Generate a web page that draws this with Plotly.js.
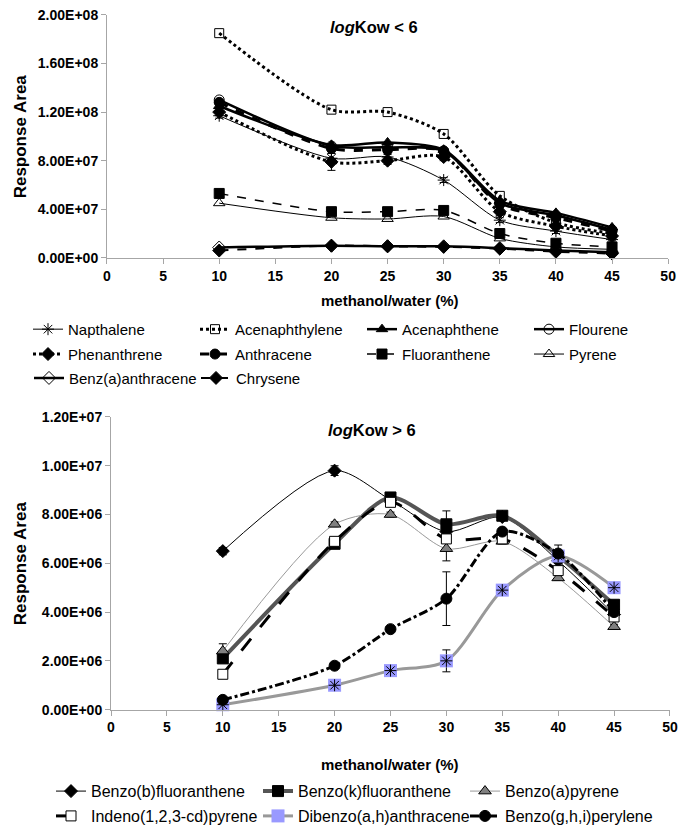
<!DOCTYPE html>
<html>
<head>
<meta charset="utf-8">
<script src="https://cdn.plot.ly/plotly-3.0.1.min.js"></script>
<style>html,body{margin:0;padding:0;background:#fff}#chart{width:696px;height:833px}</style>
</head>
<body>
<div id="chart"></div>
<script>
// ---------- data ----------
const xTop = [10, 20, 25, 30, 35, 40, 45];
const napthalene      = [1.17e8, 8.2e7, 8.3e7, 6.4e7, 3.1e7, 2.2e7, 1.5e7];
const acenaphthylene  = [1.85e8, 1.22e8, 1.20e8, 1.02e8, 5.1e7, 2.9e7, 2.0e7];
const acenaphthene    = [1.25e8, 9.3e7, 9.5e7, 8.9e7, 4.7e7, 3.7e7, 2.5e7];
const flourene        = [1.30e8, 9.2e7, 9.1e7, 8.8e7, 4.5e7, 3.5e7, 2.3e7];
const phenanthrene    = [1.20e8, 7.9e7, 8.0e7, 8.3e7, 3.8e7, 2.6e7, 1.8e7];
const anthracene      = [1.28e8, 9.0e7, 8.9e7, 8.8e7, 4.4e7, 3.3e7, 2.2e7];
const fluoranthene    = [5.3e7, 3.8e7, 3.8e7, 3.9e7, 2.0e7, 1.2e7, 0.9e7];
const pyrene          = [4.5e7, 3.3e7, 3.2e7, 3.4e7, 1.6e7, 0.9e7, 0.7e7];
const benzAanthracene = [0.85e7, 1.0e7, 0.95e7, 0.95e7, 0.8e7, 0.6e7, 0.45e7];
const chrysene        = [0.6e7, 1.0e7, 0.95e7, 0.9e7, 0.75e7, 0.5e7, 0.35e7];
const phenanthreneErr = [0.3e7, 0.7e7, 0.3e7, 0.3e7, 0.3e7, 0.2e7, 0.2e7];
const napthaleneErr   = [0.2e7, 0.4e7, 0.2e7, 0.2e7, 0.2e7, 0.2e7, 0.1e7];

const xBot = [10, 20, 25, 30, 35, 40, 45];
const benzoBF  = [6.5e6, 9.8e6, 8.6e6, 7.3e6, 7.9e6, 6.1e6, 3.9e6];
const benzoKF  = [2.1e6, 6.8e6, 8.7e6, 7.6e6, 7.95e6, 6.3e6, 4.3e6];
const benzoAP  = [2.4e6, 7.6e6, 8.0e6, 6.6e6, 6.9e6, 5.4e6, 3.4e6];
const indeno   = [1.45e6, 6.9e6, 8.5e6, 7.0e6, 7.0e6, 5.7e6, 3.8e6];
const dibenzo  = [0.2e6, 1.0e6, 1.6e6, 2.0e6, 4.9e6, 6.3e6, 5.0e6];
const benzoGHI = [0.4e6, 1.8e6, 3.3e6, 4.55e6, 7.3e6, 6.4e6, 4.0e6];
const benzoBFErr  = [0.15e6, 0.2e6, 0.1e6, 0.1e6, 0.1e6, 0.1e6, 0.1e6];
const benzoKFErr  = [0.1e6, 0.1e6, 0.1e6, 0.55e6, 0.15e6, 0.45e6, 0.1e6];
const benzoAPErr  = [0.3e6, 0.1e6, 0.1e6, 0.5e6, 0.1e6, 0.1e6, 0.1e6];
const dibenzoErr  = [0.05e6, 0.1e6, 0.1e6, 0.45e6, 0.1e6, 0.1e6, 0.1e6];
const benzoGHIErr = [0.05e6, 0.1e6, 0.1e6, 1.1e6, 0.1e6, 0.1e6, 0.1e6];

const xTickVals = [0, 5, 10, 15, 20, 25, 30, 35, 40, 45, 50];
const topYTickVals = [0, 4e7, 8e7, 1.2e8, 1.6e8, 2e8];
const topYTickText = ['0.00E+00', '4.00E+07', '8.00E+07', '1.20E+08', '1.60E+08', '2.00E+08'];
const botYTickVals = [0, 2e6, 4e6, 6e6, 8e6, 1e7, 1.2e7];
const botYTickText = ['0.00E+00', '2.00E+06', '4.00E+06', '6.00E+06', '8.00E+06', '1.00E+07', '1.20E+07'];

// ---------- traces ----------
const FONT = 'Arial, "Liberation Sans", sans-serif';
function tr(name, x, y, opt) {
  const t = {
    type: 'scatter', mode: 'lines+markers', name: name, x: x, y: y,
    xaxis: opt.bottom ? 'x2' : 'x', yaxis: opt.bottom ? 'y2' : 'y',
    legend: opt.lg,
    line: {color: opt.lc || '#000', width: opt.lw || 1, dash: opt.dash || 'solid', shape: 'spline', smoothing: 0.8},
    marker: {symbol: opt.sym, size: opt.ms || 9, color: opt.mc || '#000',
             line: {color: opt.mlc || '#000', width: opt.mlw === undefined ? 1 : opt.mlw}},
    showlegend: opt.showlegend === undefined ? true : opt.showlegend,
    cliponaxis: false
  };
  if (opt.err) t.error_y = {type: 'data', array: opt.err, visible: true, color: '#000', thickness: 1, width: 4};
  return t;
}

const traces = [
  tr('Napthalene', xTop, napthalene, {lg: 'legend', sym: 'asterisk-open', lw: 1, ms: 10, err: napthaleneErr}),
  tr('Acenaphthylene', xTop, acenaphthylene, {lg: 'legend', sym: 'square-open', lw: 3, dash: 'dot', ms: 9}),
  tr('Acenaphthene', xTop, acenaphthene, {lg: 'legend', sym: 'triangle-up', lw: 2.5, ms: 10}),
  tr('Flourene', xTop, flourene, {lg: 'legend', sym: 'circle-open', lw: 2.5, ms: 10}),
  tr('Phenanthrene', xTop, phenanthrene, {lg: 'legend3', sym: 'diamond', lw: 3, dash: 'dot', ms: 10, err: phenanthreneErr}),
  tr('Anthracene', xTop, anthracene, {lg: 'legend3', sym: 'circle', lw: 3, dash: 'dash', ms: 10}),
  tr('Fluoranthene', xTop, fluoranthene, {lg: 'legend3', sym: 'square', lw: 1.5, dash: 'dash', ms: 10}),
  tr('Pyrene', xTop, pyrene, {lg: 'legend3', sym: 'triangle-up-open', lw: 1, ms: 10}),
  tr('Benz(a)anthracene', xTop, benzAanthracene, {lg: 'legend4', sym: 'diamond-open', lw: 2.5, ms: 10}),
  tr('Chrysene', xTop, chrysene, {lg: 'legend4', sym: 'diamond', lw: 2, dash: 'dash', ms: 10}),

  tr('Benzo(b)fluoranthene', xBot, benzoBF, {bottom: true, lg: 'legend2', sym: 'diamond', lw: 1, ms: 10, err: benzoBFErr}),
  tr('Benzo(k)fluoranthene', xBot, benzoKF, {bottom: true, lg: 'legend2', sym: 'square', lw: 4, lc: '#555', ms: 11, err: benzoKFErr}),
  tr('Benzo(a)pyrene', xBot, benzoAP, {bottom: true, lg: 'legend2', sym: 'triangle-up', lw: 1, lc: '#999', mc: '#808080', ms: 11, err: benzoAPErr}),
  tr('Indeno(1,2,3-cd)pyrene', xBot, indeno, {bottom: true, lg: 'legend5', sym: 'square', lw: 3, dash: 'longdash', mc: '#fff', ms: 10}),
  tr('Dibenzo(a,h)anthracene', xBot, dibenzo, {bottom: true, lg: 'legend5', sym: 'square', lw: 3, lc: '#999', mc: '#9999ff', mlw: 0, ms: 13, err: dibenzoErr}),
  tr('Dibenzo(a,h)anthracene', xBot, dibenzo, {bottom: true, lg: 'legend5', sym: 'asterisk-open', lw: 0, ms: 10, showlegend: false}),
  tr('Benzo(g,h,i)perylene', xBot, benzoGHI, {bottom: true, lg: 'legend5', sym: 'circle', lw: 3, dash: 'dashdot', ms: 11, err: benzoGHIErr})
];
traces[15].mode = 'markers';

// ---------- layout ----------
const axisCommon = {
  showgrid: false, zeroline: false, showline: true, linecolor: '#a6a6a6', linewidth: 1,
  ticks: 'outside', ticklen: 5, tickcolor: '#a6a6a6',
  tickfont: {family: FONT, size: 14, color: '#000', weight: 'bold'}
};
function lg(xpx, ypx, ew, fs) {
  return {orientation: 'h', x: xpx / 696, y: 1 - ypx / 833, xanchor: 'left', yanchor: 'middle',
          entrywidth: ew, font: {family: FONT, size: fs, color: '#000'}, itemwidth: 30,
          bgcolor: 'rgba(0,0,0,0)', borderwidth: 0};
}
const TOPX = 71 - 42, BOTX = 93 - 42;
const layout = {
  width: 696, height: 833,
  margin: {l: 0, r: 0, t: 0, b: 0},
  paper_bgcolor: '#fff', plot_bgcolor: '#fff',
  showlegend: true,
  xaxis: Object.assign({}, axisCommon, {domain: [0.1537, 0.960], range: [0, 50], tickvals: xTickVals, anchor: 'y'}),
  yaxis: Object.assign({}, axisCommon, {domain: [0.689, 0.982], range: [0, 2e8], tickvals: topYTickVals, ticktext: topYTickText, anchor: 'x'}),
  xaxis2: Object.assign({}, axisCommon, {domain: [0.1595, 0.9626], range: [0, 50], tickvals: xTickVals, anchor: 'y2'}),
  yaxis2: Object.assign({}, axisCommon, {domain: [0.144, 0.497], range: [0, 1.2e7], tickvals: botYTickVals, ticktext: botYTickText, anchor: 'x2'}),
  legend:  lg(TOPX, 331, 122, 15),
  legend3: lg(TOPX, 356, 122, 15),
  legend4: lg(TOPX, 380, 122, 15),
  legend2: lg(BOTX, 795, 162, 16),
  legend5: lg(BOTX, 820, 162, 16),
  annotations: [
    {text: '<i>log</i>Kow < 6', xref: 'paper', yref: 'paper', x: 374 / 696, y: 1 - 27 / 833, showarrow: false,
     xanchor: 'center', yanchor: 'middle', font: {family: FONT, size: 16.5, color: '#000', weight: 'bold'}},
    {text: '<i>log</i>Kow > 6', xref: 'paper', yref: 'paper', x: 372 / 696, y: 1 - 432 / 833, showarrow: false,
     xanchor: 'center', yanchor: 'middle', font: {family: FONT, size: 16.5, color: '#000', weight: 'bold'}},
    {text: 'methanol/water (%)', xref: 'paper', yref: 'paper', x: 390 / 696, y: 1 - 302 / 833, showarrow: false,
     xanchor: 'center', yanchor: 'middle', font: {family: FONT, size: 15, color: '#000', weight: 'bold'}},
    {text: 'methanol/water (%)', xref: 'paper', yref: 'paper', x: 390 / 696, y: 1 - 768 / 833, showarrow: false,
     xanchor: 'center', yanchor: 'middle', font: {family: FONT, size: 15, color: '#000', weight: 'bold'}},
    {text: 'Response Area', xref: 'paper', yref: 'paper', x: 20 / 696, y: 1 - 137 / 833, showarrow: false, textangle: -90,
     xanchor: 'center', yanchor: 'middle', font: {family: FONT, size: 17, color: '#000', weight: 'bold'}},
    {text: 'Response Area', xref: 'paper', yref: 'paper', x: 20 / 696, y: 1 - 566 / 833, showarrow: false, textangle: -90,
     xanchor: 'center', yanchor: 'middle', font: {family: FONT, size: 17, color: '#000', weight: 'bold'}}
  ]
};

Plotly.newPlot('chart', traces, layout, {staticPlot: true, displayModeBar: false});
</script>
</body>
</html>
